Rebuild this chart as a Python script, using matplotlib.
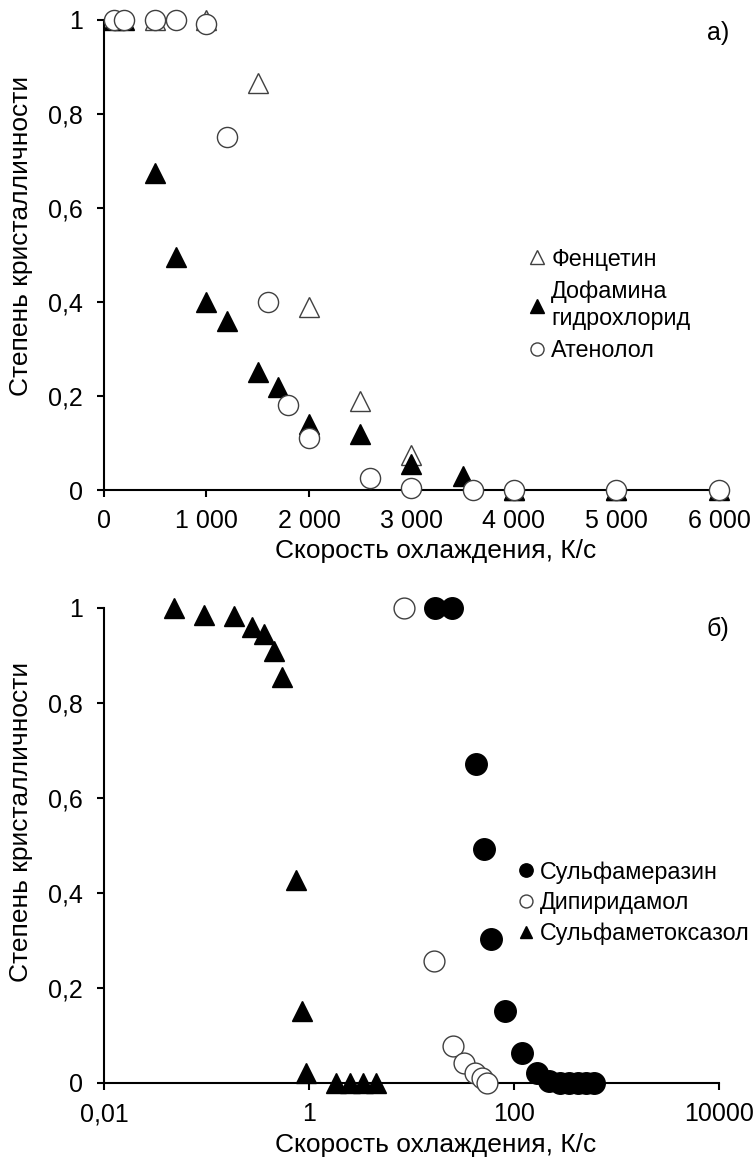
import matplotlib
matplotlib.use("Agg")
from matplotlib import pyplot as plt
from matplotlib.ticker import FuncFormatter, FixedLocator, NullLocator

plt.rcParams['font.family'] = ['Liberation Sans', 'DejaVu Sans']

# --- панель а) ---
phen_x = [500, 1000, 1500, 2000, 2500, 3000, 4000, 5000]
phen_y = [1.0, 1.0, 0.865, 0.39, 0.19, 0.075, 0.0, 0.0]

dopa_x = [100, 200, 500, 700, 1000, 1200, 1500, 1700, 2000, 2500, 3000, 3500, 4000, 5000, 6000]
dopa_y = [1.0, 1.0, 0.675, 0.495, 0.4, 0.36, 0.25, 0.22, 0.14, 0.12, 0.055, 0.03, 0.0, 0.0, 0.0]

aten_x = [100, 200, 500, 700, 1000, 1200, 1600, 1800, 2000, 2600, 3000, 3600, 4000, 5000, 6000]
aten_y = [1.0, 1.0, 1.0, 1.0, 0.99, 0.75, 0.4, 0.18, 0.11, 0.025, 0.005, 0.0, 0.0, 0.0, 0.0]

# --- панель б) ---
smr_x = [17, 25, 43, 51, 60, 82, 120, 168, 219, 281, 344, 421, 503, 603]
smr_y = [1.0, 1.0, 0.672, 0.493, 0.303, 0.152, 0.063, 0.02, 0.005, 0.0, 0.0, 0.0, 0.0, 0.0]

dip_x = [8.5, 16.6, 25.4, 32.5, 41.7, 48.7, 54.6]
dip_y = [1.0, 0.257, 0.078, 0.042, 0.021, 0.01, 0.0]

smx_x = [0.048, 0.095, 0.185, 0.278, 0.362, 0.456, 0.546, 0.748, 0.85, 0.935, 1.83, 2.5, 3.37, 4.5]
smx_y = [1.0, 0.985, 0.983, 0.96, 0.945, 0.91, 0.855, 0.427, 0.152, 0.02, 0.0, 0.0, 0.0, 0.0]

y_ticks = [0, 0.2, 0.4, 0.6, 0.8, 1]
xa_ticks = [0, 1000, 2000, 3000, 4000, 5000, 6000]
xb_ticks = [0.01, 1, 100, 10000]
xb_labels = ["0,01", "1", "100", "10000"]

edge = "#404040"
fs_tick = 18
fs_lab = 19
fs_leg = 16.8


def yfmt(v, pos):
    return ("%g" % v).replace(".", ",")


def xfmt(v, pos):
    return "{:,}".format(int(v)).replace(",", " ")


def style_axes(ax, ylab_y):
    for s in ["top", "right"]:
        ax.spines[s].set_visible(False)
    for s in ["left", "bottom"]:
        ax.spines[s].set_linewidth(1.5)
        ax.spines[s].set_color("black")
    ax.tick_params(direction="out", length=5, width=1.5, labelsize=fs_tick)
    ax.tick_params(axis="y", pad=10)
    ax.tick_params(axis="x", pad=9)
    ax.set_ylim(0, 1)
    ax.set_yticks(y_ticks)
    ax.yaxis.set_major_formatter(FuncFormatter(yfmt))
    ax.set_ylabel("Степень кристалличности", fontsize=fs_lab)
    ax.set_xlabel("Скорость охлаждения, К/с", fontsize=fs_lab)
    ax.yaxis.set_label_coords(-0.115, ylab_y)
    ax.xaxis.set_label_coords(0.54, -0.105)


fig = plt.figure(figsize=(7.55, 11.64), dpi=100)

# а)
ax1 = fig.add_axes([0.1377, 0.579, 0.8146, 0.404])
ax1.plot(phen_x, phen_y, ls="none", marker="^", ms=15, mfc="white", mec=edge, mew=1,
         clip_on=False, label="Фенцетин", zorder=3)
ax1.plot(dopa_x, dopa_y, ls="none", marker="^", ms=15, mfc="black", mec="black", mew=1,
         clip_on=False, label="Дофамина\nгидрохлорид", zorder=4)
ax1.plot(aten_x, aten_y, ls="none", marker="o", ms=14.5, mfc="white", mec=edge, mew=1,
         clip_on=False, label="Атенолол", zorder=5)
ax1.set_xlim(0, 6000)
ax1.set_xticks(xa_ticks)
ax1.xaxis.set_major_formatter(FuncFormatter(xfmt))
style_axes(ax1, 0.54)
ax1.legend(loc="center left", bbox_to_anchor=(0.693, 0.394), frameon=False, fontsize=fs_leg,
           markerscale=0.65, handlelength=0.6, handletextpad=0.3, labelspacing=0.4,
           borderaxespad=0, borderpad=0)
ax1.text(0.998, 0.972, "а)", transform=ax1.transAxes, fontsize=fs_tick, ha="center", va="center")

# б)
ax2 = fig.add_axes([0.1377, 0.0696, 0.8146, 0.4081])
ax2.plot(smr_x, smr_y, ls="none", marker="o", ms=15.5, mfc="black", mec="black", mew=1,
         clip_on=False, label="Сульфамеразин", zorder=4)
ax2.plot(dip_x, dip_y, ls="none", marker="o", ms=15, mfc="white", mec=edge, mew=1,
         clip_on=False, label="Дипиридамол", zorder=5)
ax2.plot(smx_x, smx_y, ls="none", marker="^", ms=15, mfc="black", mec="black", mew=1,
         clip_on=False, label="Сульфаметоксазол", zorder=3)
ax2.set_xscale("log")
ax2.set_xlim(0.01, 10000)
ax2.xaxis.set_major_locator(FixedLocator(xb_ticks))
ax2.xaxis.set_minor_locator(NullLocator())
ax2.set_xticklabels(xb_labels)
style_axes(ax2, 0.55)
ax2.legend(loc="center left", bbox_to_anchor=(0.675, 0.379), frameon=False, fontsize=fs_leg,
           markerscale=0.62, handlelength=0.6, handletextpad=0.3, labelspacing=0.34,
           borderaxespad=0, borderpad=0)
ax2.text(0.998, 0.955, "б)", transform=ax2.transAxes, fontsize=fs_tick, ha="center", va="center")

fig.savefig("out.png", dpi=100)
